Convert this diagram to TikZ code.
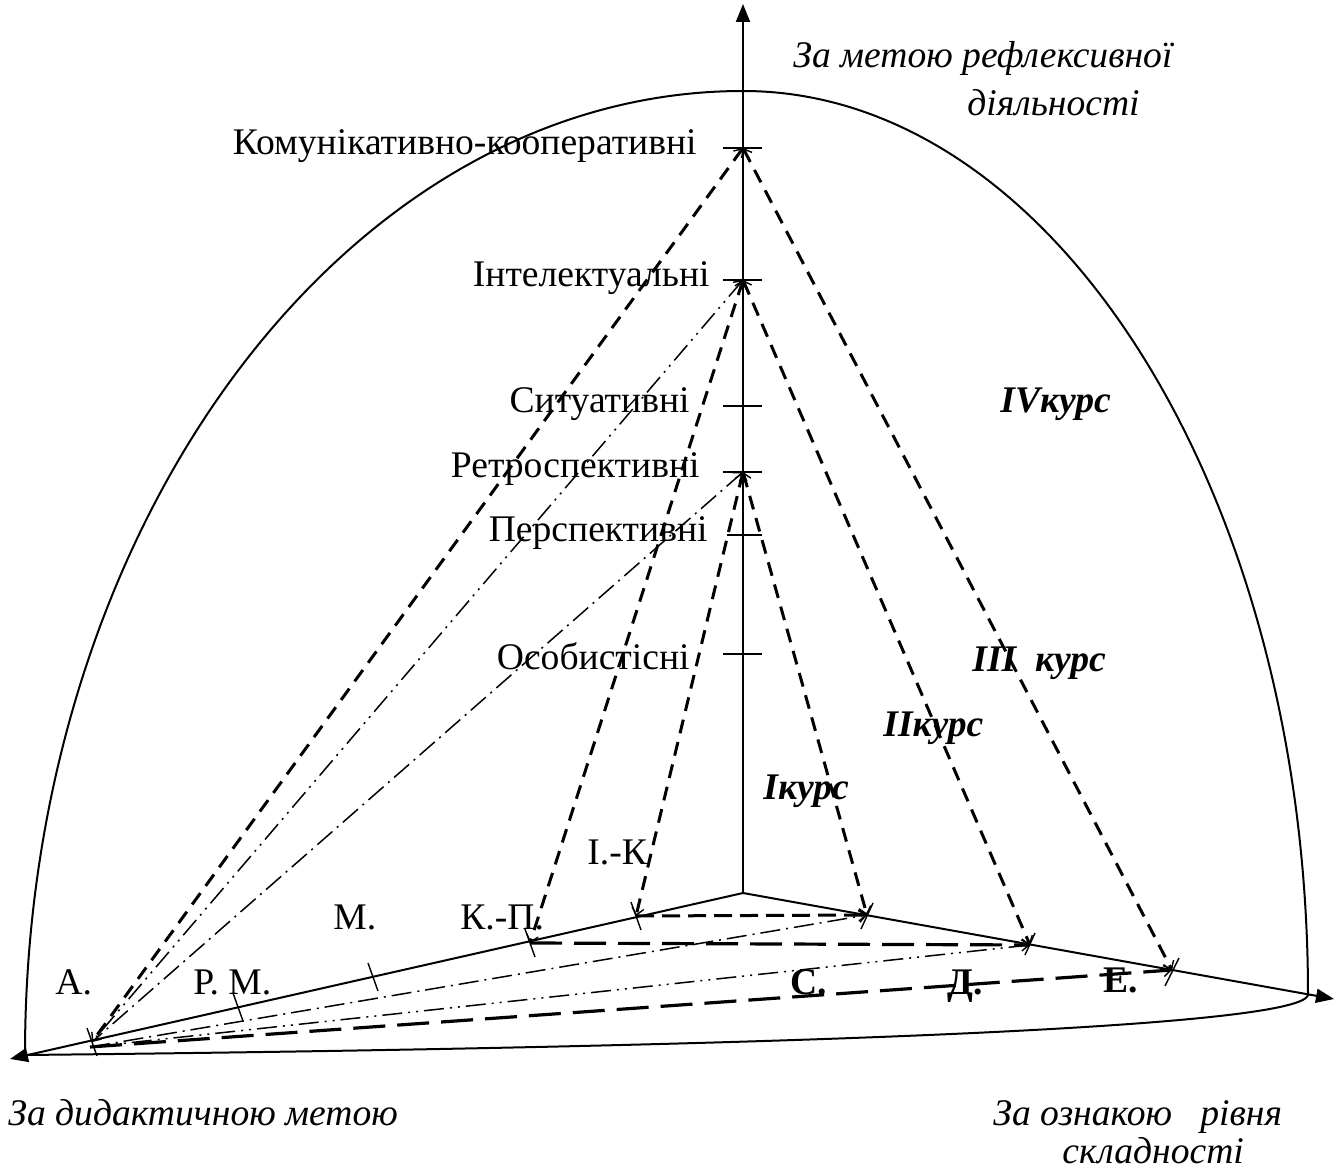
\documentclass[tikz,border=0pt]{standalone}
\usepackage{fontspec}
\setmainfont{Liberation Serif}
\newfontfamily\tnr{Liberation Serif}
\usetikzlibrary{arrows.meta}

\begin{document}
\begin{tikzpicture}[x=0.5pt,y=-0.5pt,line join=round,
  axis/.style={line width=1pt,-{Triangle[length=9pt,width=7pt]}},
  frame/.style={line width=1pt},
  tick/.style={line width=0.7pt},
  barb/.tip={Straight Barb[length=3.5pt,width=6pt,line width=0.7pt]},
  ray/.style={line width=1.5pt,dash pattern=on 7pt off 4.5pt,barb-barb},
  shortdash/.style={line width=1.5pt,dash pattern=on 9pt off 4pt,-barb},
  longdash/.style={line width=1.6pt,dash pattern=on 16pt off 6pt,-barb},
  dashdot/.style={line width=0.75pt,dash pattern=on 10pt off 3pt on 1pt off 3pt},
  dashdotdot/.style={line width=0.75pt,dash pattern=on 10pt off 3pt on 1pt off 3pt on 1pt off 3pt},
  lbl/.style={font=\tnr\fontsize{18.8}{22}\selectfont,inner sep=0pt},
  ital/.style={lbl,font=\tnr\fontsize{18.8}{22}\selectfont\itshape},
  bital/.style={lbl,font=\tnr\fontsize{18.8}{22}\selectfont\bfseries\itshape},
  bold/.style={lbl,font=\tnr\fontsize{18.8}{22}\selectfont\bfseries},
]
\useasboundingbox (0,0) rectangle (1341,1171);

% axes origin and ends
\coordinate (O) at (743,893);
\coordinate (T) at (743,4);
\coordinate (Lt) at (10,1059);
\coordinate (Rt) at (1334,999);
\coordinate (BL) at (25,1055);
\coordinate (BR) at (1308,995);
\coordinate (Top) at (743,91);

% levels on the vertical axis
\coordinate (Kom) at (743,148);
\coordinate (Int) at (743,280);
\coordinate (Sit) at (743,406);
\coordinate (Ret) at (743,472);
\coordinate (Per) at (743,535);
\coordinate (Oso) at (743,654);

% points on the left axis
\coordinate (A)  at (92,1042);
\coordinate (A2) at (90,1047);
\coordinate (RM) at (238,1007);
\coordinate (Mp) at (373,977);
\coordinate (KP) at (530,943);
\coordinate (IK) at (636,916);

% points on the right axis
\coordinate (C) at (867,915);
\coordinate (D) at (1030,945);
\coordinate (E) at (1172,970);

% dome and base outline
\draw[frame] (BL) .. controls (25,523) and (348,91) .. (Top)
  .. controls (1055,91) and (1308,496) .. (BR);
\draw[frame] (BL) .. controls (700,1048) and (1300,1030) .. (BR);

% axes
\draw[axis] (O) -- (T);
\draw[axis] (O) -- (Lt);
\draw[axis] (O) -- (Rt);

% ticks on the vertical axis
\foreach \p in {Kom,Int,Sit,Ret,Oso}
  \draw[tick] (\p) ++(-20,0) -- ++(39,0);
\draw[tick] (Per) ++(-16,0) -- ++(35,0);

% ticks on the left axis
\foreach \p in {A,RM,Mp,KP,IK}
  \draw[tick] (\p) ++(-5,-14) -- ++(10,28);

% ticks on the right axis
\draw[tick] (C) ++(6,-12) -- ++(-12,26);
\draw[tick] (D) ++(5,-12) -- ++(-10,22);
\draw[tick] (E) ++(7,-12) -- ++(-14,28);

% rays from the levels
\draw[ray] (Kom) -- (A);
\draw[ray] (Kom) -- (E);
\draw[ray] (Int) -- (KP);
\draw[ray] (Int) -- (D);
\draw[ray] (Ret) -- (IK);
\draw[ray] (Ret) -- (C);
\draw[dashdotdot,barb-] (Int) -- (A);
\draw[dashdot,barb-] (Ret) -- (A);

% links across the base
\draw[shortdash] (IK) -- (C);
\draw[longdash] (KP) -- (D);
\draw[dashdot,-barb] (A2) -- (C);
\draw[dashdotdot] (A2) -- (D);
\draw[longdash] (A2) -- (E);

% level labels
\node[lbl,anchor=base east] (tKom) at (697,155) {Комунікативно-кооперативні};
\node[lbl,anchor=base east] (tInt) at (710,287) {Інтелектуальні};
\node[lbl,anchor=base east] (tSit) at (690,413) {Ситуативні};
\node[lbl,anchor=base east] (tRet) at (700,478) {Ретроспективні};
\node[lbl,anchor=base east] (tPer) at (708,542) {Перспективні};
\node[lbl,anchor=base east] (tOso) at (690,670) {Особистісні};

% left axis labels
\node[lbl,anchor=base west] (tA)  at (55,994) {А.};
\node[lbl,anchor=base west] (tRM) at (193,994) {Р. М.};
\node[lbl,anchor=base west] (tM)  at (333,930) {М.};
\node[lbl,anchor=base west] (tKP) at (460,930) {К.-П.};
\node[lbl,anchor=base west] (tIK) at (587,865) {І.-К};

% right axis labels
\node[bold,anchor=base west] (tC) at (790,994) {С.};
\node[bold,anchor=base west] (tD) at (947,994) {Д.};
\node[bold,anchor=base west] (tE) at (1103,993) {Е.};

% year labels
\node[bital,anchor=base west] (k1) at (763,800) {Iкурс};
\node[bital,anchor=base west] (k2) at (883,737) {IIкурс};
\node[bital,anchor=base west] (k3) at (972,672) {III\ \ курс};
\node[bital,anchor=base west] (k4) at (1000,413) {IVкурс};

% axis captions
\node[ital,anchor=base west] (cUp1) at (793,68) {За метою рефлексивної};
\node[ital,anchor=base west] (cUp2) at (967,116) {діяльності};
\node[ital,anchor=base west] (cL) at (8,1125) {За дидактичною метою};
\node[ital,anchor=base west] (cR1) at (993,1125) {За ознакою\ \ \ рівня};
\node[ital,anchor=base west] (cR2) at (1062,1163) {складності};
\end{tikzpicture}
\end{document}
